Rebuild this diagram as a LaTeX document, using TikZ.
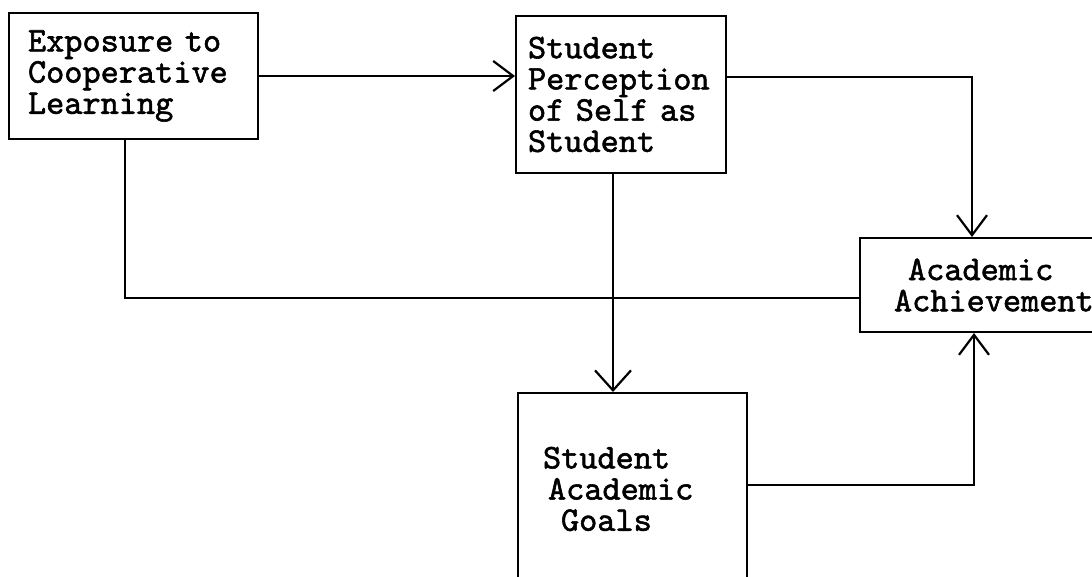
\documentclass[tikz,border=0pt]{standalone}
\usepackage{fontspec}
\newfontfamily\typer{lmmono10-regular}[Extension=.otf, FakeBold=1.6]
\usetikzlibrary{arrows.meta}
\begin{document}
\begin{tikzpicture}[x=1pt,y=-1pt,
  box/.style={draw, line width=2pt, rectangle, anchor=north west, align=left,
    font=\typer\fontsize{34.6}{31.2}\selectfont},
  link/.style={line width=2.4pt},
  arr/.style={link, -{Straight Barb[length=20pt,width=30pt,line width=2.2pt]}},
  arrb/.style={link, -{Straight Barb[length=20pt,width=36pt,line width=2.2pt]}}]
\useasboundingbox (0,0) rectangle (1092,577);
\clip (0,0) rectangle (1092,577);
\fill[white] (0,0) rectangle (1092,577);

% boxes
\node[box, minimum height=126pt, text width=211pt, inner xsep=19pt]
  (exp) at (8,12) {Exposure to\\Cooperative\\Learning};
\node[box, minimum height=157pt, text width=186pt, inner xsep=12pt]
  (perc) at (515,15) {Student\\Perception\\of Self as\\Student};
\node[box, minimum height=94pt, text width=232pt, inner xsep=34pt]
  (ach) at (859,237) {\hspace*{14pt}Academic\\Achievement};
\node[box, minimum height=192pt, text width=179pt, inner xsep=25pt]
  (goals) at (517,392) {Student\\\hspace*{5pt}Academic\\\hspace*{18pt}Goals};

% bend points
\coordinate (c1) at (972,77);
\coordinate (c2) at (125,298);
\coordinate (c3) at (974,485);
\coordinate (c4) at (613,0);

% connectors
\draw[arr] (exp.east) -- (perc.west |- exp.east);
\draw[arr] (perc.east |- c1) -- (c1) -- (c1 |- ach.north);
\draw[arrb] (perc.south -| c4) -- (goals.north -| c4);
\draw[link] (exp.south -| c2) -- (c2) -- (ach.west |- c2);
\draw[arr] (goals.east |- c3) -- (c3) -- (c3 |- ach.south);
\end{tikzpicture}
\end{document}
